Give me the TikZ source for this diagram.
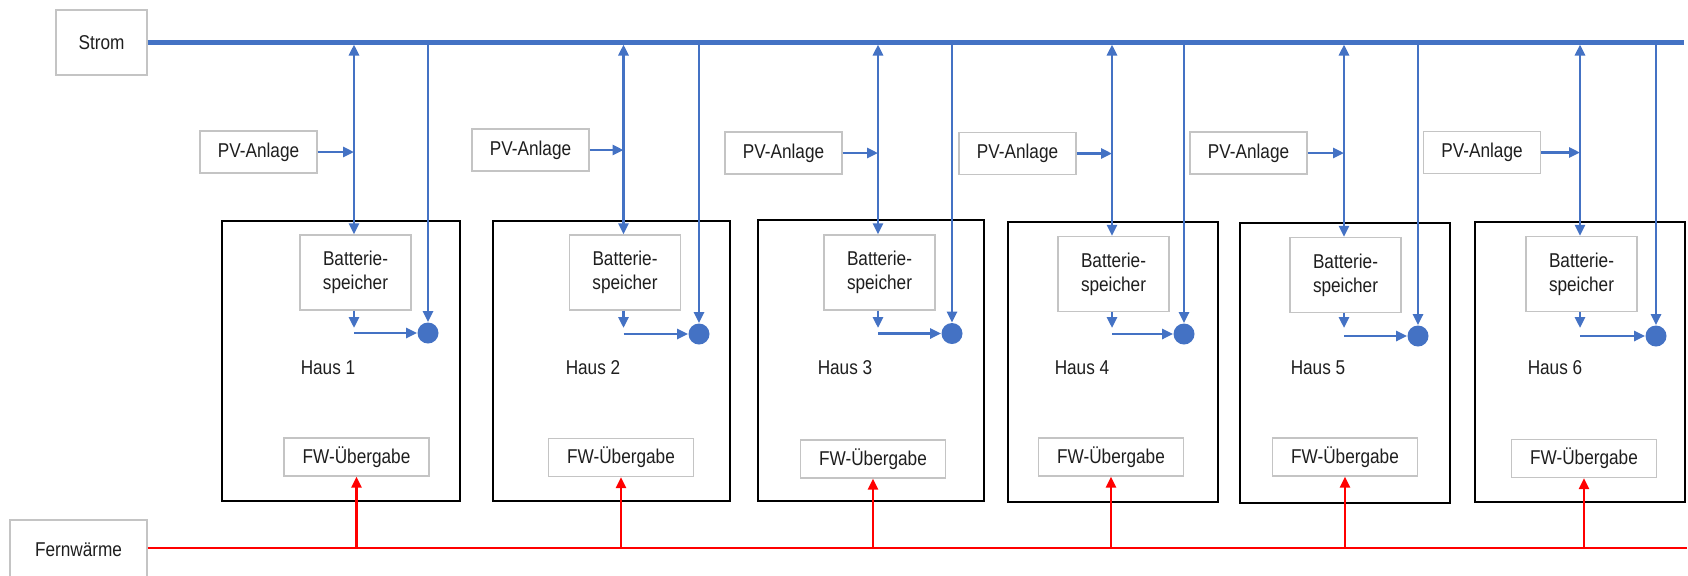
\documentclass[tikz,border=0pt]{standalone}
\usepackage{fontspec}
\setmainfont{Liberation Sans}[FakeStretch=0.86]
\usetikzlibrary{arrows.meta,fit}
\definecolor{pblue}{HTML}{4472C4}
\definecolor{pred}{HTML}{FF0000}
\definecolor{pgray}{HTML}{C4C4C4}
\definecolor{ptext}{HTML}{1E1E1E}
\begin{document}
\begin{tikzpicture}[x=0.5pt,y=-0.5pt,
  gbox/.style={draw=pgray,line width=0.7pt,inner sep=0pt,font=\fontsize{10}{11.9}\selectfont,text=ptext,align=center},
  txt/.style={inner sep=0pt,font=\fontsize{10}{11.9}\selectfont,text=ptext},
  hbox/.style={draw=black,line width=1.4pt,inner sep=0pt},
  bl/.style={draw=pblue,line width=1.4pt},
  rd/.style={draw=pred,line width=1.3pt},
  tip/.style={-{Triangle[length=5.5pt,width=5pt]}},
  dtip/.style={{Triangle[length=5.5pt,width=5pt]}-{Triangle[length=5.5pt,width=5pt]}},
  dot/.style={circle,fill=pblue,inner sep=0pt,minimum size=10.5pt}
]
\useasboundingbox (0,0) rectangle (1688,575);
\clip (0,0) rectangle (1688,575);
\node[gbox,minimum width=45.5pt,minimum height=32.5pt] (strom) at (101.5,42.5) {Strom};
\coordinate (send) at (1684,42.5);
\draw[draw=pblue,line width=2.1pt] (strom.east) -- (send);
\node[gbox,minimum width=68.5pt,minimum height=30pt] (fern) at (78.5,550) {Fernwärme};
\coordinate (rend) at (1687,548);
\draw[rd] (fern.east |- rend) -- (rend);
\foreach \n/\L/\R/\T/\B/\pvx/\pvy/\dx/\rx/\by/\cy/\tx/\fx/\fy in {
  1/222/460/221/501/258.5/152/354/428/272.5/333/328/356.5/457,
  2/493/730/221/501/530.5/150/623.5/699/272.5/334/593/621/457.5,
  3/758/984/220/501/783.5/153/878/952/272.5/333.5/845/873/459,
  4/1008/1218/222/502/1017.5/153.5/1112/1184/274/334/1082/1111/457,
  5/1240/1450/223/503/1248.5/153/1344/1418/275/336/1318/1345/457,
  6/1475/1685/222/502/1482/152.5/1580/1656/274/336/1555/1584/458.5}{
  \node[hbox,fit={(\L,\T) (\R,\B)}] (house\n) {};
  \node[gbox,minimum width=58.5pt,minimum height=21pt] (pv\n) at (\pvx,\pvy) {PV-Anlage};
  \node[gbox,minimum width=55.5pt,minimum height=37.5pt] (bat\n) at (\dx+1.5,\by) {Batterie-\\speicher};
  \node[dot] (c\n) at (\rx,\cy) {};
  \node[txt] (h\n) at (\tx,368) {Haus \n};
  \node[gbox,minimum width=72.5pt,minimum height=19pt] (fw\n) at (\fx,\fy) {FW-Übergabe};
  \coordinate (st\n) at (\dx,44.5);
  \coordinate (sr\n) at (\rx,42.5);
  \coordinate (bo\n) at (\dx,328);
  \coordinate (hz\n) at (\dx,\cy);
  \coordinate (fr\n) at (\fx,548);
  \draw[bl,tip] (pv\n.east) -- (pv\n.east -| st\n);
  \draw[bl,dtip] (st\n) -- (st\n |- bat\n.north);
  \draw[bl,tip] (sr\n) -- (c\n.north);
  \draw[bl,tip] (st\n |- bat\n.south) -- (bo\n);
  \draw[bl,tip] (hz\n) -- (c\n.west);
  \draw[rd,tip] (fr\n) -- (fw\n.south);
}
\end{tikzpicture}
\end{document}
